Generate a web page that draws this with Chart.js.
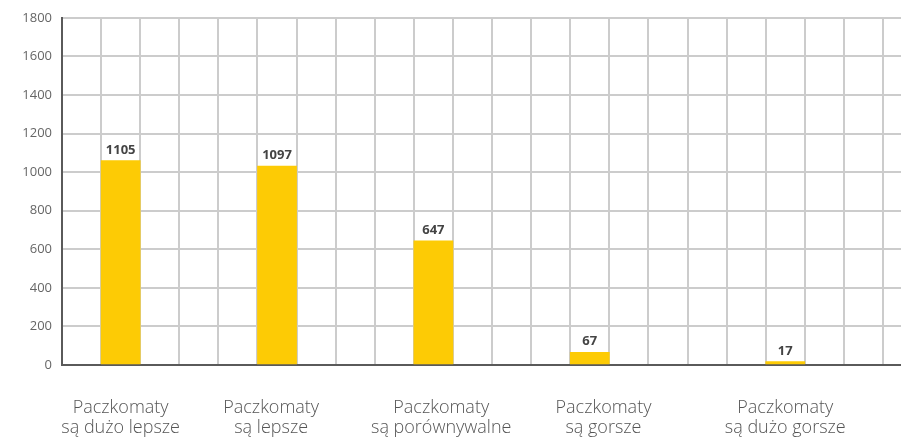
<!DOCTYPE html>
<html>
<head>
<meta charset="utf-8">
<script src="https://cdn.jsdelivr.net/npm/chart.js@4/dist/chart.umd.min.js"></script>
<style>
  html, body { margin: 0; padding: 0; background: #ffffff; }
  #wrap { width: 901px; height: 439px; position: relative; }
</style>
</head>
<body>
<div id="wrap"><canvas id="c"></canvas></div>
<script>
// ---- data ----
const categories = [
  ['Paczkomaty', 'są dużo lepsze'],
  ['Paczkomaty', 'są lepsze'],
  ['Paczkomaty', 'są porównywalne'],
  ['Paczkomaty', 'są gorsze'],
  ['Paczkomaty', 'są dużo gorsze']
];
const barValues = [1060, 1031, 644, 66, 18];          // bar heights as drawn
const valueLabels = ['1105', '1097', '647', '67', '17']; // numbers printed above bars
const yTicks = [0, 200, 400, 600, 800, 1000, 1200, 1400, 1600, 1800];

// ---- layout (grid slots) ----
const barSlots = [1, 5, 9, 13, 18];
const labelSlots = [1.5, 5.35, 9.7, 13.85, 18.5];
const slotCount = 21;
const xMax = slotCount * 839 / 821;

const FONT = "'Open Sans', 'Noto Sans', sans-serif";

const valueLabelPlugin = {
  id: 'valueLabels',
  afterDatasetsDraw(chart) {
    const ctx = chart.ctx;
    const meta = chart.getDatasetMeta(0);
    ctx.save();
    ctx.font = "bold 13px " + FONT;
    ctx.fillStyle = '#444444';
    ctx.textAlign = 'center';
    ctx.textBaseline = 'bottom';
    meta.data.forEach((bar, i) => {
      ctx.fillText(valueLabels[i], bar.x, bar.y - 4);
    });
    ctx.restore();
  }
};

new Chart(document.getElementById('c'), {
  type: 'bar',
  data: {
    datasets: [{
      data: barValues.map((v, i) => ({ x: barSlots[i] + 0.5, y: v })),
      backgroundColor: '#fdcb05',
      borderWidth: 0,
      barPercentage: 1,
      categoryPercentage: 1,
      xAxisID: 'x'
    }]
  },
  options: {
    responsive: true,
    maintainAspectRatio: false,
    animation: false,
    layout: { padding: { top: 16, right: 0, bottom: 0, left: 0 } },
    plugins: { legend: { display: false }, tooltip: { enabled: false } },
    scales: {
      x: {
        type: 'linear',
        position: 'bottom',
        offset: false,
        min: 0,
        max: xMax,
        afterBuildTicks(s) {
          const t = [];
          for (let i = 0; i <= slotCount; i++) t.push({ value: i });
          s.ticks = t;
        },
        ticks: { display: false },
        grid: { color: '#cccccc', lineWidth: 2, drawTicks: false, offset: false },
        border: { display: true, color: '#5a5a5a', width: 2 },
        afterFit(s) { s.height = 0; }
      },
      x2: {
        type: 'linear',
        position: 'bottom',
        offset: false,
        min: 0,
        max: xMax,
        grid: { display: false, drawTicks: false, offset: false },
        border: { display: false },
        afterBuildTicks(s) { s.ticks = labelSlots.map(v => ({ value: v })); },
        ticks: {
          autoSkip: false,
          maxRotation: 0,
          padding: 33,
          font: { family: FONT, size: 18, weight: '300', lineHeight: 1.1 },
          color: '#555555',
          callback(value, index) { return categories[index]; }
        },
        afterFit(s) { s.height = 74; }
      },
      y: {
        type: 'linear',
        min: 0,
        max: 1800,
        afterBuildTicks(s) { s.ticks = yTicks.map(v => ({ value: v })); },
        ticks: {
          padding: 10,
          font: { family: FONT, size: 13 },
          color: '#666666',
          callback(value) { return String(value); }
        },
        grid: { color: '#cccccc', lineWidth: 2, drawTicks: false },
        border: { display: true, color: '#5a5a5a', width: 2 },
        afterFit(s) { s.width = 62; }
      }
    }
  },
  plugins: [valueLabelPlugin]
});
</script>
</body>
</html>
